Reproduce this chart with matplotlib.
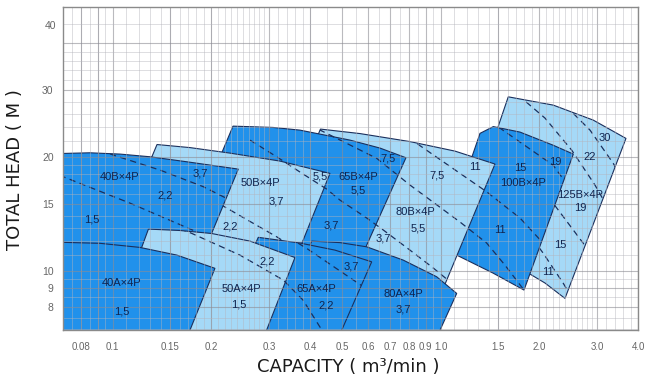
# %% Imports

import numpy as np
import matplotlib
matplotlib.use('Agg')
import matplotlib.pyplot as plt
from matplotlib.patches import Polygon
from matplotlib.ticker import NullLocator

# %% Pump ranges: capacity (m3/min) and total head (m)

# A series (lower heads)
q_40a = [0.06, 0.0707, 0.0915, 0.121, 0.157, 0.205, 0.1605, 0.06]
h_40a = [11.9, 11.89, 11.82, 11.53, 11.0, 10.15, 6.0, 6.0]
q_50a = [0.1285, 0.1604, 0.2003, 0.2622, 0.3595, 0.2755, 0.093]
h_50a = [12.89, 12.78, 12.55, 11.98, 10.84, 6.0, 6.0]
q_65a = [0.2779, 0.3724, 0.4762, 0.6161, 0.463, 0.1919]
h_65a = [12.26, 11.84, 11.34, 10.56, 6.0, 6.0]
q_80a = [0.4045, 0.4932, 0.595, 0.769, 0.9723, 1.119, 0.9206, 0.2824]
h_80a = [11.98, 11.87, 11.57, 10.67, 9.64, 8.71, 6.0, 6.0]

# B series (higher heads)
q_40b = [0.06, 0.0707, 0.0853, 0.1053, 0.1299, 0.1681, 0.2415, 0.2003, 0.1299, 0.06]
h_40b = [20.42, 20.44, 20.52, 20.36, 20.03, 19.43, 18.58, 12.56, 11.21, 10.94]
q_50b = [0.1365, 0.1721, 0.2278, 0.3236, 0.4597, 0.3777, 0.2773, 0.2008, 0.1]
h_50b = [21.58, 21.18, 20.48, 19.51, 18.10, 11.84, 11.69, 11.69, 11.34]
q_65b = [0.2327, 0.3082, 0.3724, 0.529, 0.653, 0.7836, 0.5821, 0.3996, 0.2813, 0.1634]
h_65b = [24.14, 23.95, 23.56, 22.17, 21.12, 19.91, 11.21, 11.34, 11.48, 11.62]
q_80b = [0.430, 0.5675, 0.806, 1.106, 1.464, 1.022, 0.7514, 0.5675, 0.3011]
h_80b = [23.71, 23.07, 21.97, 20.73, 19.16, 9.05, 10.54, 11.34, 11.34]
q_100b = [1.318, 1.447, 1.745, 2.200, 2.537, 1.795, 1.444, 1.119, 0.995]
h_100b = [23.10, 24.07, 23.28, 21.50, 20.36, 8.89, 9.86, 11.00, 11.34]
q_125b = [1.607, 2.204, 2.919, 3.672, 2.393, 2.080, 1.872, 1.627, 1.256]
h_125b = [28.86, 27.44, 25.04, 22.40, 8.45, 9.28, 9.80, 10.35, 15.38]

# %% Motor power boundaries (dashed)

q_pw_a = [0.0644, 0.0707, 0.1129, 0.1803, 0.2278]
h_pw_a = [18.36, 17.73, 15.10, 12.68, 11.34]
q_pw_b = [0.0915, 0.1004, 0.1394, 0.1889, 0.2444]
h_pw_b = [20.86, 20.24, 18.47, 16.69, 14.92]
q_pw_c = [0.1495, 0.1741, 0.2444, 0.3312, 0.3804, 0.4439]
h_pw_c = [13.21, 12.56, 11.00, 9.45, 8.365, 6.76]
q_pw_d = [0.1604, 0.2174, 0.3162, 0.3996]
h_pw_d = [16.15, 14.83, 12.30, 10.80]
q_pw_e = [0.2622, 0.3162, 0.3724, 0.4492, 0.4932, 0.595, 0.6683, 0.806, 0.9493, 1.043, 1.186]
h_pw_e = [22.17, 20.03, 18.25, 16.45, 15.38, 13.79, 12.82, 11.34, 10.17, 9.506, 8.52]
q_pw_f = [0.3236, 0.3904, 0.5808, 0.6764]
h_pw_f = [12.66, 11.46, 9.072, 7.87]
q_pw_j = [0.3724, 0.4492, 0.6381, 0.806, 1.145, 1.381, 1.570, 1.795, 1.939]
h_pw_j = [25.04, 23.10, 19.84, 16.86, 13.46, 11.84, 10.35, 8.89, 8.116]
q_pw_k = [0.7514, 0.8451, 1.381, 1.745, 2.080, 2.310, 2.479]
h_pw_k = [23.28, 21.73, 16.18, 13.79, 11.69, 10.04, 8.89]
q_pw_m = [1.414, 1.516, 2.200, 2.567, 2.853]
h_pw_m = [24.89, 23.85, 19.04, 15.86, 13.62]
q_pw_r = [1.627, 2.080, 2.508, 2.954, 3.329, 3.647]
h_pw_r = [30.43, 25.35, 20.86, 16.86, 14.04, 11.69]
q_pw_s = [2.154, 2.422, 2.853, 3.359, 3.647, 3.912]
h_pw_s = [29.70, 27.16, 23.56, 19.24, 16.86, 14.92]
q_pw_t = [1.745, 2.008, 2.204, 2.721, 2.954, 3.169]
h_pw_t = [19.04, 16.86, 15.08, 11.82, 10.54, 9.45]
q_pw_u = [1.745, 1.872, 2.055, 2.365, 2.567]
h_pw_u = [14.47, 12.43, 11.12, 9.262, 8.215]

# %% Text inside the chart

label_text = ['40B×4P', '3,7', '2,2', '1,5',
              '50B×4P', '3,7', '2,2', '5,5',
              '65B×4P', '5,5', '7,5', '3,7',
              '80B×4P', '5,5', '7,5', '11', '3,7',
              '15', '19', '100B×4P', '11',
              '30', '22', '125B×4P', '19', '15', '11',
              '40A×4P', '1,5',
              '2,2', '50A×4P', '1,5',
              '65A×4P', '2,2', '3,7',
              '80A×4P', '3,7']
label_q = [0.1053, 0.1846, 0.1443, 0.0865,
           0.2813, 0.3162, 0.2278, 0.4285,
           0.5608, 0.5608, 0.6921, 0.4653,
           0.835, 0.8546, 0.9723, 1.272, 0.6683,
           1.745, 2.231, 1.785, 1.516,
           3.169, 2.853, 2.659, 2.659, 2.310, 2.128,
           0.1065, 0.1065,
           0.2948, 0.2474, 0.2415,
           0.4167, 0.4492, 0.5354,
           0.769, 0.769]
label_h = [17.73, 18.10, 15.86, 13.68,
           17.06, 15.22, 13.07, 17.73,
           17.73, 16.35, 19.84, 13.21,
           14.32, 12.95, 17.92, 18.84, 12.18,
           18.66, 19.43, 17.03, 12.82,
           22.40, 20.03, 15.86, 14.63, 11.69, 9.94,
           9.262, 7.82,
           10.61, 8.946, 8.15,
           8.96, 8.116, 10.25,
           8.68, 7.92]

# %% Axis ticks and grid

q_ticks = [0.08, 0.1, 0.15, 0.2, 0.3, 0.4, 0.5, 0.6, 0.7, 0.8, 0.9, 1.0, 1.5, 2.0, 3.0, 4.0]
q_tick_labels = ['0.08', '0.1', '0.15', '0.2', '0.3', '0.4', '0.5', '0.6', '0.7', '0.8', '0.9',
                 '1.0', '1.5', '2.0', '3.0', '4.0']
h_ticks = [8, 9, 10, 15, 20, 30]
h_tick_labels = ['8', '9', '10', '15', '20', '30']

q_major_grid = [0.08, 0.09, 0.1, 0.15, 0.2, 0.3, 0.4, 0.5, 0.6, 0.7, 0.8, 0.9, 1.0, 1.5, 2.0, 3.0, 4.0]
q_minor_grid = np.r_[np.arange(0.07, 0.1, 0.005), np.arange(0.11, 0.3, 0.01),
                     np.arange(0.32, 0.4, 0.02), np.arange(0.45, 1.0, 0.1),
                     np.arange(1.1, 2.0, 0.1), np.arange(2.1, 3.0, 0.1), np.arange(3.2, 4.0, 0.2)]
h_major_grid = [8, 9, 10, 15, 20, 30, 40]
h_minor_grid = [7, 7.5, 8.5, 9.5, 11, 12, 13, 14, 16, 17, 18, 19, 22, 24, 26, 28,
                32, 34, 36, 38, 45]

# %% Style

DARK = '#2191eb'
LIGHT = '#a5d9f7'
EDGE = '#1b2f5c'
INK = '#10244f'

# drawing order: bottom first; each entry = (q, h, colour, dashed lines)
regions = [
    (q_125b, h_125b, LIGHT, [(q_pw_r, h_pw_r), (q_pw_s, h_pw_s), (q_pw_t, h_pw_t), (q_pw_u, h_pw_u)]),
    (q_100b, h_100b, DARK, [(q_pw_j, h_pw_j), (q_pw_k, h_pw_k), (q_pw_m, h_pw_m)]),
    (q_80b, h_80b, LIGHT, [(q_pw_e, h_pw_e), (q_pw_j, h_pw_j), (q_pw_k, h_pw_k)]),
    (q_65b, h_65b, DARK, [(q_pw_e, h_pw_e), (q_pw_j, h_pw_j)]),
    (q_50b, h_50b, LIGHT, [(q_pw_d, h_pw_d), (q_pw_e, h_pw_e)]),
    (q_40b, h_40b, DARK, [(q_pw_a, h_pw_a), (q_pw_b, h_pw_b)]),
    (q_80a, h_80a, DARK, [(q_pw_e, h_pw_e)]),
    (q_65a, h_65a, DARK, [(q_pw_c, h_pw_c), (q_pw_f, h_pw_f)]),
    (q_50a, h_50a, LIGHT, [(q_pw_c, h_pw_c)]),
    (q_40a, h_40a, DARK, []),
]

# %% Plot

fig = plt.figure(figsize=(6.5, 3.82), dpi=100)
ax = fig.add_axes([63.3 / 650, 52 / 382, 575 / 650, 322.7 / 382])
ax.set_xscale('log')
ax.set_yscale('log')
ax.set_xlim(0.0707, 4.004)
ax.set_ylim(6.97, 49.8)

for i, (q, h, color, dashes) in enumerate(regions):
    z = 1 + i * 0.01
    poly = Polygon(np.column_stack([q, h]), closed=True, facecolor=color,
                   edgecolor=EDGE, lw=0.8, zorder=z)
    ax.add_patch(poly)
    for dq, dh in dashes:
        ln, = ax.plot(dq, dh, color=EDGE, lw=0.9, ls=(0, (5, 3.5)), zorder=z + 0.005)
        ln.set_clip_path(poly)

for q in q_minor_grid:
    ax.axvline(q, color='#b4b4bc', lw=0.7, alpha=0.45, zorder=2)
for q in q_major_grid:
    ax.axvline(q, color='#8c8c94', lw=0.8, alpha=0.6, zorder=2)
for h in h_minor_grid:
    ax.axhline(h, color='#b4b4bc', lw=0.7, alpha=0.45, zorder=2)
for h in h_major_grid:
    ax.axhline(h, color='#8c8c94', lw=0.8, alpha=0.6, zorder=2)

for s, q, h in zip(label_text, label_q, label_h):
    ax.text(q, h, s, ha='center', va='center', fontsize=8, color=INK,
            family='Liberation Sans', zorder=4)

ax.xaxis.set_minor_locator(NullLocator())
ax.yaxis.set_minor_locator(NullLocator())
ax.set_xticks(q_ticks, q_tick_labels)
ax.set_yticks(h_ticks, h_tick_labels)
ax.tick_params(length=0, labelsize=7.5, labelcolor='#666666')
ax.tick_params(axis='x', pad=9, labelsize=7)
ax.tick_params(axis='y', pad=7)
for lbl in ax.get_xticklabels() + ax.get_yticklabels():
    lbl.set_family('Liberation Sans')
# the '40' label sits above its grid line on the original
ax.annotate('40', xy=(0, 40), xycoords=('axes fraction', 'data'), xytext=(-5.2, 12.3),
            textcoords='offset points', ha='right', va='center', fontsize=7.5,
            color='#666666', family='Liberation Sans')

for sp in ax.spines.values():
    sp.set_color('#8a8a8a')
    sp.set_linewidth(1.0)
    sp.set_zorder(5)

fig.text(348 / 650, 1 - 366.7 / 382, 'CAPACITY ( m³/min )', ha='center', va='center',
         fontsize=13, color='#1a1a1a')
fig.text(15 / 650, 1 - 170 / 382, 'TOTAL HEAD ( M )', ha='center', va='center',
         rotation=90, fontsize=13, color='#1a1a1a')

fig.savefig('out.png', dpi=100, facecolor='white')
